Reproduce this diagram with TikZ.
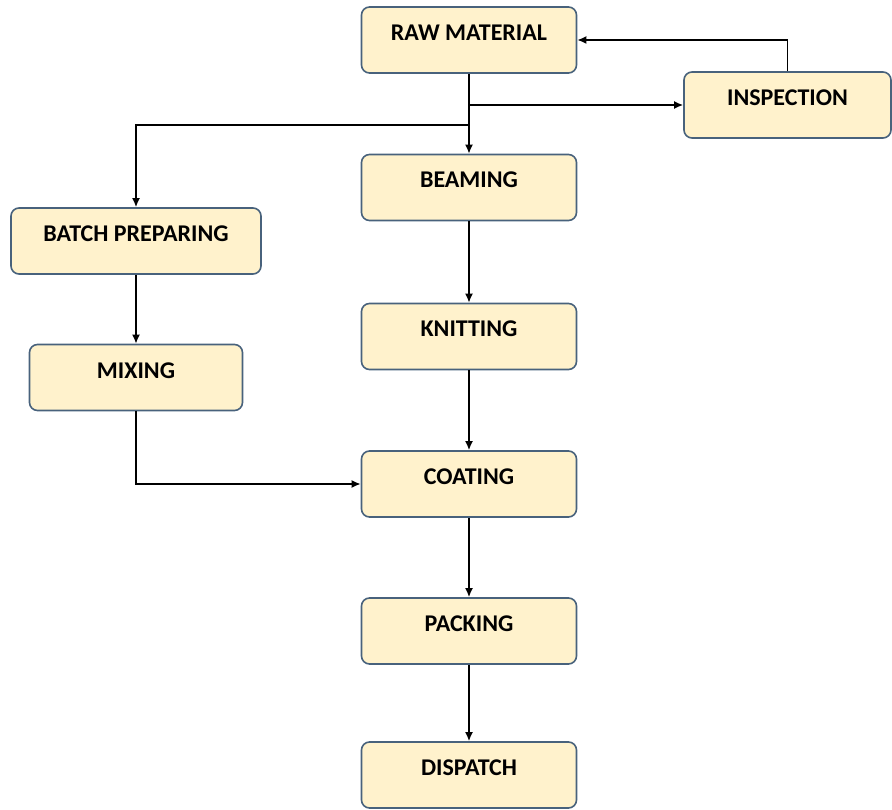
\documentclass[tikz,border=0pt]{standalone}
\usepackage{fontspec}
\setmainfont{Carlito}
\usetikzlibrary{arrows.meta}

\definecolor{boxfill}{RGB}{255,242,204}
\definecolor{boxline}{RGB}{72,98,124}

\tikzset{
  stage/.style={draw=boxline, fill=boxfill, line width=1.6pt, rounded corners=8pt,
    minimum height=66pt, text height=15pt, text depth=14pt, inner sep=0pt,
    font=\fontsize{24}{25}\selectfont\bfseries},
  flow/.style={line width=1.7pt, -{Latex[length=9pt,width=8pt]}}
}

\begin{document}
\begin{tikzpicture}[x=1pt, y=-1pt]
  \useasboundingbox (0,0) rectangle (892,810);
  % main line
  \node[stage, minimum width=215pt] (raw)   at (469,40)    {RAW MATERIAL};
  \node[stage, minimum width=215pt] (beam)  at (469,187.5) {BEAMING};
  \node[stage, minimum width=215pt] (knit)  at (469,336.5) {KNITTING};
  \node[stage, minimum width=215pt] (coat)  at (469,484)   {COATING};
  \node[stage, minimum width=215pt] (pack)  at (469,631)   {PACKING};
  \node[stage, minimum width=215pt] (disp)  at (469,775)   {DISPATCH};
  % side branches
  \node[stage, minimum width=207pt] (insp)  at (787.5,105) {INSPECTION};
  \node[stage, minimum width=250pt] (batch) at (136,241)   {BATCH PREPARING};
  \node[stage, minimum width=213pt] (mix)   at (136,377.5) {MIXING};
  \coordinate (fork) at (469,125);

  \draw[flow] (raw.south) -- (beam.north);
  \draw[flow] (raw.south) |- (insp.west);
  \draw[flow] (insp.north) |- (raw.east);
  \draw[flow] (fork) -| (batch.north);
  \draw[flow] (beam) -- (knit);
  \draw[flow] (knit) -- (coat);
  \draw[flow] (coat) -- (pack);
  \draw[flow] (pack) -- (disp);
  \draw[flow] (batch) -- (mix);
  \draw[flow] (mix.south) |- (coat.west);
\end{tikzpicture}
\end{document}
